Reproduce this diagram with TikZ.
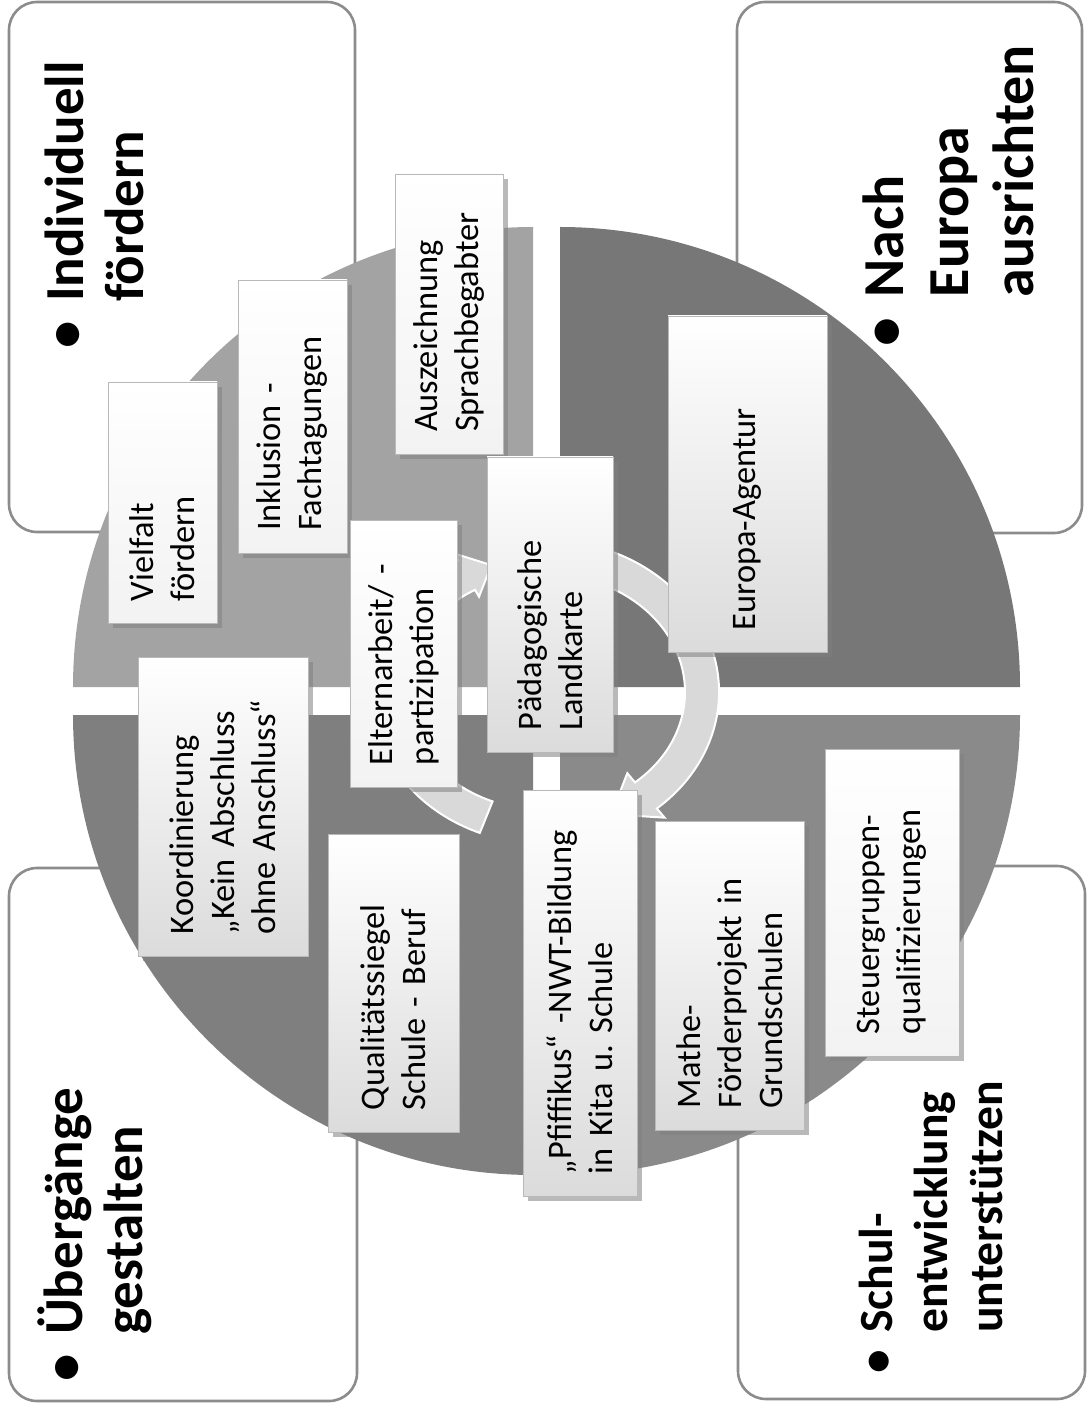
\documentclass[tikz,border=0pt]{standalone}
\usepackage{fontspec}
\setmainfont{Carlito}
\usepackage{tikz}
\usetikzlibrary{shadows}
\definecolor{QuarterLight}{HTML}{A3A3A3}
\definecolor{QuarterDark}{HTML}{777777}
\definecolor{QuarterMid}{HTML}{7F7F7F}
\definecolor{QuarterSoft}{HTML}{8A8A8A}
\definecolor{FrameGray}{HTML}{8C8C8C}
\definecolor{ArrowGray}{HTML}{D9D9D9}
\newcommand{\goalbullet}{\makebox[0.85em][l]{\textbullet}}
\newcommand{\goalindent}{\hspace*{0.85em}}

\begin{document}
\begin{tikzpicture}[x=0.5pt,y=-0.5pt,
    corner/.style={draw=FrameGray,line width=1.3pt,fill=white,rounded corners=14pt},
    goal/.style={rotate=90,anchor=north west,inner sep=0pt,align=left,
      font=\fontsize{27.5}{30}\selectfont\bfseries},
    item/.style={rotate=90,draw=gray!55,line width=0.4pt,top color=white,bottom color=gray!28,
      inner xsep=11pt,inner ysep=0pt,align=left,font=\fontsize{17.2}{20.5}\selectfont,
      drop shadow={shadow xshift=2.5pt,shadow yshift=-2.5pt,opacity=.55}},
    plain/.style={item,bottom color=gray!10},
    cycle arrow/.style={fill=ArrowGray,draw=white,line width=1pt}]
  \useasboundingbox (0,0) rectangle (1090,1416);
  % corner boxes
  \draw[corner] (9,2) rectangle (355,532);
  \draw[corner] (737,2) rectangle (1082,533);
  \draw[corner] (9,868) rectangle (357,1401);
  \draw[corner] (738,866) rectangle (1085,1399);
  % four quarters
  \fill[QuarterLight] (533,687) -- (73,687) arc[start angle=180,end angle=270,radius=460] -- cycle;
  \fill[QuarterDark] (560,687) -- (560,227) arc[start angle=270,end angle=360,radius=460] -- cycle;
  \fill[QuarterSoft] (560,715) -- (1020,715) arc[start angle=0,end angle=90,radius=460] -- cycle;
  \fill[QuarterMid] (533,715) -- (533,1175) arc[start angle=90,end angle=180,radius=460] -- cycle;
  % circular arrows
  \begin{scope}[shift={(545,692)}]
    \filldraw[cycle arrow] (112:174 and 152) arc[start angle=112,end angle=240,x radius=174,y radius=152]
      -- (240:182 and 160) -- (250:157 and 135) -- (240:132 and 110) -- (240:140 and 118)
      arc[start angle=240,end angle=112,x radius=140,y radius=118] -- cycle;
    \filldraw[cycle arrow] (290:174 and 152) arc[start angle=290,end angle=410,x radius=174,y radius=152]
      -- (410:186 and 164) -- (425:157 and 135) -- (410:128 and 106) -- (410:140 and 118)
      arc[start angle=410,end angle=290,x radius=140,y radius=118] -- cycle;
  \end{scope}
  % measures
  \node[plain,text width=98.5pt,minimum height=54.5pt] (vielfalt) at (162.5,502.5) {Vielfalt\\fördern};
  \node[plain,text width=114.5pt,minimum height=54.5pt] (inklusion) at (292.5,416.5) {Inklusion -\\Fachtagungen};
  \node[plain,text width=118pt,minimum height=54pt] (auszeichnung) at (449,314) {Auszeichnung\\Sprachbegabter};
  \node[item,text width=127.5pt,minimum height=85pt] (koordinierung) at (223,806.5) {Koordinierung\\„Kein Abschluss\\ohne Anschluss“};
  \node[plain,text width=111.5pt,minimum height=53.5pt] (eltern) at (403.5,653.5) {Elternarbeit/ -\\partizipation};
  \node[item,text width=125.5pt,minimum height=63pt] (landkarte) at (550,604.5) {Pädagogische\\Landkarte};
  \node[item,text width=146pt,minimum height=79.5pt] (agentur) at (747.5,484) {Europa-Agentur};
  \node[item,text width=127pt,minimum height=65.5pt] (siegel) at (393.5,983) {Qualitätssiegel\\Schule - Beruf};
  \node[item,text width=181pt,minimum height=57pt] (pfiffikus) at (580,993) {„Pfiffikus“ -NWT-Bildung\\in Kita u.\ Schule};
  \node[item,text width=132.5pt,minimum height=74.5pt] (mathe) at (729.5,975.5) {Mathe-\\Förderprojekt in\\Grundschulen};
  \node[plain,text width=131.5pt,minimum height=67pt] (steuer) at (892,902.5) {Steuergruppen-\\qualifizierungen};
  % goals
  \node[goal] (individuell) at (44.5,349) {\goalbullet Individuell\\\goalindent fördern};
  \node[goal,font=\fontsize{29}{32.5}\selectfont\bfseries] (europa) at (862,347) {\goalbullet Nach\\\goalindent Europa\\\goalindent ausrichten};
  \node[goal] (uebergaenge) at (37,1382) {\goalbullet Übergänge\\\goalindent gestalten};
  \node[goal,font=\fontsize{23.8}{27.5}\selectfont\bfseries] (schule) at (859,1373.5) {\goalbullet Schul-\\\goalindent entwicklung\\\goalindent unterstützen};
\end{tikzpicture}
\end{document}
